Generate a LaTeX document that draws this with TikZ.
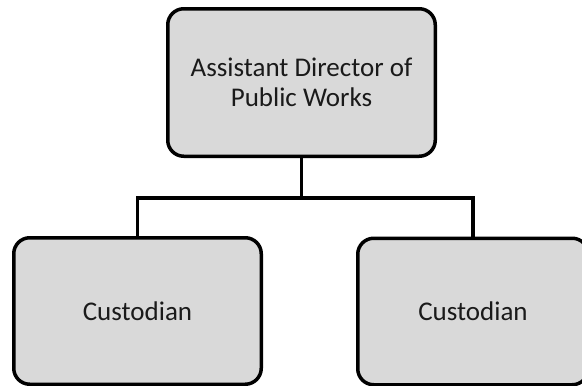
\documentclass[tikz,border=0pt]{standalone}
\usepackage{fontspec}
\setmainfont{Carlito}
\begin{document}
\begin{tikzpicture}[x=1pt,y=-1pt,
  orgbox/.style={draw=black, line width=3.5pt, fill=boxgray, rounded corners=16pt,
    align=center, inner sep=0pt, text=textgray, font=\fontsize{27}{30}\selectfont},
  conn/.style={draw=black, line width=3.5pt, line join=miter}]
  \definecolor{boxgray}{HTML}{D9D9D9}
  \definecolor{textgray}{HTML}{1A1A1A}
  \useasboundingbox (0,0) rectangle (582,386);
  \clip (0,0) rectangle (582,386);
  % boxes
  \node[orgbox, minimum width=267.5pt, minimum height=147.5pt] (top) at (301.5,82.5)
    {Assistant Director of\\Public Works};
  \node[orgbox, minimum width=247.5pt, minimum height=146.5pt] (left) at (137.5,311)
    {Custodian};
  \node[orgbox, minimum width=230.5pt, minimum height=146.5pt] (right) at (473,311.5)
    {Custodian};
  % connectors
  \coordinate (bus) at (301.5,198);
  \draw[conn] (top.south) -- (top.south |- bus);
  \draw[conn] (left.north) -- (left.north |- bus) -- (right.north |- bus) -- (right.north);
\end{tikzpicture}
\end{document}
